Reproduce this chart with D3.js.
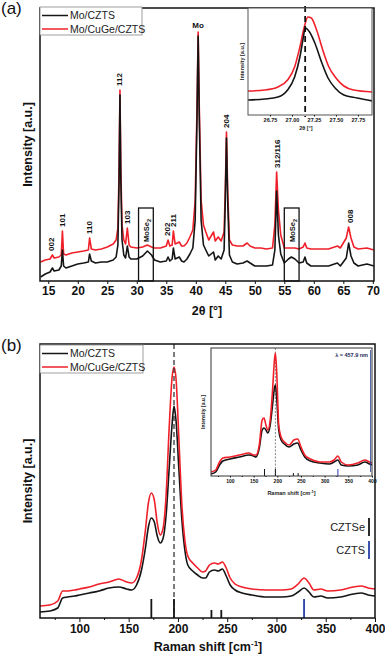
<!DOCTYPE html>
<html lang="en">
<head>
<meta charset="UTF-8">
<title>XRD and Raman: Mo/CZTS vs Mo/CuGe/CZTS</title>
<script src="https://d3js.org/d3.v7.min.js"></script>
<style>
    body {
        margin: 0;
        background: #fff;
    }
    svg text {
        font-family: 'Liberation Sans', Arial, sans-serif;
    }
    .frame {
        fill: none;
        stroke: #111;
        stroke-width: 1.5px;
    }
    .line {
        fill: none;
        stroke-width: 1.6px;
        stroke-linejoin: round;
    }
</style>
</head>
<body>
<svg id="fig" width="385" height="655"></svg>
<script>
    // ---- data ----
    const seriesNames = ["Mo/CZTS", "Mo/CuGe/CZTS"];

    // (a) XRD, 2theta in degrees, intensity in arbitrary units
    const xrdTicks = [15, 20, 25, 30, 35, 40, 45, 50, 55, 60, 65, 70];
    const xrdTheta = [
        13.7, 14.5, 15.3, 15.7, 16.0, 16.8, 17.2, 17.4, 17.6, 18.0,
        19.0, 20.0, 21.0, 21.8, 22.0, 22.3, 23.0, 24.0, 25.0, 26.0,
        26.5, 26.8, 27.0, 27.15, 27.3, 27.5, 27.8, 28.1, 28.4, 28.7,
        29.0, 30.0, 31.0, 31.8, 32.5, 33.0, 34.0, 35.0, 35.3, 35.6,
        36.0, 36.2, 36.5, 37.2, 37.6, 38.0, 38.5, 39.0, 39.5, 39.9,
        40.2, 40.4, 40.6, 40.9, 41.3, 41.7, 42.2, 43.0, 43.3, 43.8,
        44.3, 44.8, 45.0, 45.2, 45.4, 45.7, 46.2, 47.0, 48.0, 48.7,
        49.2, 50.0, 51.0, 52.0, 53.0, 53.4, 53.7, 54.0, 54.4, 55.0,
        55.7, 56.2, 56.8, 57.5, 58.2, 58.5, 58.8, 59.5, 61.0, 62.5,
        64.0, 64.5, 65.5, 65.9, 66.3, 66.8, 67.5, 69.0, 70.2
    ];
    const xrdCZTS = [
        4, 7, 9, 13, 10, 11, 15, 31, 15, 13,
        15, 17, 18, 19, 27, 20, 18, 19, 19, 21,
        24, 36, 101, 186, 101, 41, 26, 23, 35, 24,
        22, 22, 25, 30, 26, 21, 19, 20, 24, 20,
        22, 33, 22, 24, 20, 19, 22, 27, 33, 61,
        161, 245, 161, 61, 36, 31, 25, 29, 21, 25,
        22, 31, 81, 143, 81, 26, 19, 17, 18, 20,
        18, 15, 15, 15, 16, 31, 90, 46, 27, 18,
        22, 24, 22, 18, 19, 24, 18, 15, 15, 15,
        18, 15, 23, 38, 25, 18, 15, 17, 15
    ];
    const xrdCuGeCZTS = [
        19, 21, 22, 26, 23, 24, 26, 50, 27, 26,
        28, 29, 30, 31, 43, 32, 31, 32, 34, 37,
        41, 53, 111, 191, 111, 56, 41, 37, 53, 36,
        34, 33, 34, 36, 34, 33, 33, 35, 41, 35,
        36, 50, 37, 39, 35, 35, 38, 44, 51, 81,
        171, 249, 171, 81, 56, 49, 41, 49, 40, 44,
        40, 49, 91, 149, 91, 41, 36, 35, 35, 38,
        35, 33, 33, 32, 33, 56, 109, 71, 46, 33,
        33, 33, 33, 32, 34, 38, 33, 32, 32, 32,
        35, 33, 43, 54, 43, 34, 32, 33, 31
    ];
    const xrdPeakLabels = ["002", "101", "110", "112", "103", "202", "211", "204", "312/116", "008"];
    const xrdPeakTheta = [15.5, 17.3, 21.9, 27.05, 28.4, 35.2, 36.2, 45.2, 53.8, 66.1];
    const moTheta = 40.4;
    const moSe2Ranges = [[30.3, 32.8], [55.0, 57.5]];

    // (a) inset: zoom on the 112 reflection
    const insetTicksA = [26.75, 27.00, 27.25, 27.50, 27.75];
    const insetThetaCZTS = [26.5, 26.69, 26.84, 26.95, 27.03, 27.09, 27.13, 27.15, 27.2, 27.26, 27.34, 27.41, 27.49, 27.59, 27.74, 27.92];
    const insetCZTS = [15, 16, 18, 25, 38, 58, 78, 87, 83, 72, 52, 37, 27, 20, 17, 14];
    const insetThetaCuGe = [26.5, 26.69, 26.84, 26.95, 27.03, 27.09, 27.14, 27.18, 27.22, 27.28, 27.35, 27.42, 27.5, 27.59, 27.7, 27.92];
    const insetCuGe = [24, 25, 28, 35, 48, 68, 88, 98, 97, 85, 65, 48, 37, 29, 25, 23];
    const insetMarkA = 27.15;

    // (b) Raman, shift in cm-1
    const ramanTicks = [100, 150, 200, 250, 300, 350, 400];
    const ramanMinor = [75, 125, 175, 225, 275, 325, 375];
    const ramanShift = [
        60, 70, 78, 83, 88, 95, 100, 110, 120, 130,
        140, 148, 153, 158, 163, 167, 170, 173, 176, 179,
        182, 185, 188, 191, 194, 196, 198, 201, 204, 207,
        210, 215, 220, 225, 228, 232, 237, 241, 245, 249,
        253, 258, 265, 275, 290, 305, 315, 322, 328, 333,
        338, 345, 352, 365, 378, 386, 393, 400
    ];
    const ramanCZTS = [
        6, 7, 10, 20, 21, 22, 23, 25, 27, 30,
        31, 29, 28, 33, 48, 70, 91, 100, 96, 82,
        75, 80, 103, 148, 193, 212, 198, 148, 98, 68,
        53, 47, 43, 40, 40, 46, 48, 47, 49, 42,
        33, 28, 25, 23, 21, 21, 22, 26, 30, 26,
        21, 22, 20, 21, 24, 25, 23, 22
    ];
    const ramanCuGeCZTS = [
        12, 13, 17, 27, 27, 28, 29, 31, 34, 36,
        39, 36, 35, 40, 58, 88, 115, 125, 118, 95,
        83, 90, 123, 188, 240, 251, 240, 178, 113, 78,
        62, 55, 50, 46, 47, 53, 55, 54, 56, 50,
        40, 34, 31, 29, 28, 28, 29, 34, 40, 35,
        28, 29, 27, 28, 31, 32, 30, 29
    ];
    const ramanMark = 196;

    // (b) inset: 457.9 nm excitation
    const insetShift = [
        60, 70, 78, 85, 100, 120, 140, 150, 155, 162,
        168, 172, 176, 180, 185, 190, 194, 196, 199, 203,
        208, 215, 225, 235, 243, 250, 258, 270, 290, 310,
        320, 328, 335, 350, 370, 385, 395, 400
    ];
    const insetRamanCZTS = [
        2, 4, 11, 15, 17, 19, 21, 20, 19, 28,
        46, 48, 46, 43, 51, 71, 88, 91, 76, 46,
        36, 32, 29, 32, 33, 26, 19, 15, 13, 12,
        14, 16, 11, 10, 11, 14, 12, 11
    ];
    const insetRamanCuGe = [
        4, 6, 14, 18, 19, 21, 23, 21, 21, 31,
        56, 58, 51, 46, 56, 86, 116, 123, 101, 51,
        39, 34, 31, 36, 37, 29, 21, 17, 14, 14,
        16, 20, 14, 11, 13, 16, 14, 13
    ];

    // reference modes (relative stick heights)
    const cztseModes = [173, 196, 234, 244];
    const cztseRel = [1, 1, 0.42, 0.42];
    const cztsModes = [328];
    const cztsRel = [1];

    // ---- drawing ----
    const black = "#151515";
    const red = "#f0202a";
    const blue = "#2640a6";
    const colors = [black, red];

    const svg = d3.select("#fig");
    const defs = svg.append("defs");

    function clip(id, x0, y0, x1, y1) {
        defs.append("clipPath").attr("id", id)
            .append("rect").attr("x", x0).attr("y", y0).attr("width", x1 - x0).attr("height", y1 - y0);
    }

    function bottomAxis(scale, y, ticks, size, fontSize, fmt) {
        const ax = d3.axisBottom(scale).tickValues(ticks).tickSize(size).tickSizeOuter(0).tickPadding(2);
        if (fmt) ax.tickFormat(fmt);
        const g = svg.append("g").attr("transform", `translate(0,${y})`).call(ax);
        g.select(".domain").remove();
        g.attr("font-family", null).attr("font-size", fontSize).attr("font-weight", "bold");
        g.selectAll("text").attr("fill", "#111");
        g.selectAll("line").attr("stroke", "#111");
        return g;
    }

    function legend(x0, y0, w, h, gap) {
        svg.append("rect").attr("x", x0).attr("y", y0).attr("width", w).attr("height", h)
            .attr("fill", "#fff").attr("stroke", "#888").attr("stroke-width", 0.8);
        seriesNames.forEach((name, i) => {
            const yy = y0 + 8.5 + i * gap;
            svg.append("line").attr("x1", x0 + 2).attr("x2", x0 + 28).attr("y1", yy).attr("y2", yy)
                .attr("stroke", colors[i]).attr("stroke-width", 1.5);
            svg.append("text").attr("x", x0 + 30).attr("y", yy).attr("dy", "0.35em")
                .attr("font-size", 10.5).attr("fill", "#222").text(name);
        });
    }

    // ===== panel (a) =====
    const A = {left: 40, right: 374, top: 8, bottom: 281};
    const xA = d3.scaleLinear().domain([13.6, 70.2]).range([A.left, A.right]);
    const yA = d3.scaleLinear().domain([0, 273]).range([A.bottom, A.top]);
    clip("clipA", A.left, A.top, A.right, A.bottom);

    const lineA = d3.line().x(d => xA(d[0])).y(d => yA(d[1]));
    const gA = svg.append("g").attr("clip-path", "url(#clipA)");
    [xrdCuGeCZTS, xrdCZTS].forEach((vals, k) => {
        gA.append("path").attr("class", "line")
            .attr("stroke", k === 0 ? red : black)
            .attr("stroke-width", 1.7)
            .attr("d", lineA(xrdTheta.map((t, i) => [t, vals[i]])));
    });

    // MoSe2 boxes
    moSe2Ranges.forEach(r => {
        const x0 = xA(r[0]), x1 = xA(r[1]);
        svg.append("rect").attr("x", x0).attr("y", yA(73)).attr("width", x1 - x0).attr("height", A.bottom - yA(73))
            .attr("fill", "none").attr("stroke", "#111").attr("stroke-width", 1.3);
        const t = svg.append("text")
            .attr("transform", `translate(${(x0 + x1) / 2 + 3},${yA(73) + 34}) rotate(-90)`)
            .attr("font-size", 7.5).attr("font-weight", "bold").attr("fill", "#111");
        t.append("tspan").text("MoSe");
        t.append("tspan").attr("font-size", 5.5).attr("dy", 2).text("2");
    });

    // peak labels, placed just above the upper curve
    function nearestRed(theta) {
        let best = 0;
        xrdTheta.forEach((t, i) => { if (Math.abs(t - theta) < 0.25 && xrdCuGeCZTS[i] > xrdCuGeCZTS[best]) best = i; });
        if (Math.abs(xrdTheta[best] - theta) >= 0.25) best = d3.minIndex(xrdTheta, t => Math.abs(t - theta));
        return xrdCuGeCZTS[best];
    }
    xrdPeakLabels.forEach((lab, i) => {
        const x = xA(xrdPeakTheta[i]);
        const y = yA(nearestRed(xrdPeakTheta[i])) - 4;
        svg.append("text")
            .attr("transform", `translate(${x + 3},${y}) rotate(-90)`)
            .attr("font-size", 8).attr("font-weight", "bold").attr("fill", "#111")
            .text(lab);
    });
    svg.append("text").attr("x", xA(moTheta)).attr("y", yA(249) - 4)
        .attr("text-anchor", "middle").attr("font-size", 8).attr("font-weight", "bold").attr("fill", "#111")
        .text("Mo");

    svg.append("rect").attr("class", "frame")
        .attr("x", A.left).attr("y", A.top).attr("width", A.right - A.left).attr("height", A.bottom - A.top);
    bottomAxis(xA, A.bottom, xrdTicks, 3, 12);

    svg.append("text").attr("x", 207).attr("y", 315).attr("text-anchor", "middle")
        .attr("font-size", 12.5).attr("font-weight", "bold").attr("fill", "#111").text("2θ [°]");
    svg.append("text").attr("transform", `translate(32,${(A.top + A.bottom) / 2}) rotate(-90)`)
        .attr("text-anchor", "middle").attr("font-size", 12.5).attr("font-weight", "bold").attr("fill", "#111")
        .text("Intensity [a.u.]");
    svg.append("text").attr("x", 1).attr("y", 14).attr("font-size", 17).attr("fill", "#111").text("(a)");
    legend(40, 7, 102, 28, 13.5);

    // inset (a)
    const IA = {left: 248, right: 372, top: 8, bottom: 115};
    const xIA = d3.scaleLinear().domain([26.5, 27.91]).range([IA.left, IA.right]);
    const yIA = d3.scaleLinear().domain([0, 107]).range([IA.bottom, IA.top]);
    clip("clipIA", IA.left, IA.top, IA.right, IA.bottom);
    svg.append("rect").attr("x", IA.left).attr("y", IA.top).attr("width", IA.right - IA.left).attr("height", IA.bottom - IA.top)
        .attr("fill", "#fff");
    const lineIA = d3.line().x(d => xIA(d[0])).y(d => yIA(d[1])).curve(d3.curveMonotoneX);
    const gIA = svg.append("g").attr("clip-path", "url(#clipIA)");
    gIA.append("path").attr("class", "line").attr("stroke", red).attr("stroke-width", 1.4)
        .attr("d", lineIA(insetThetaCuGe.map((t, i) => [t, insetCuGe[i]])));
    gIA.append("path").attr("class", "line").attr("stroke", black).attr("stroke-width", 1.4)
        .attr("d", lineIA(insetThetaCZTS.map((t, i) => [t, insetCZTS[i]])));
    svg.append("line").attr("x1", xIA(insetMarkA)).attr("x2", xIA(insetMarkA)).attr("y1", IA.top - 2).attr("y2", IA.bottom + 2)
        .attr("stroke", "#111").attr("stroke-width", 1.8).attr("stroke-dasharray", "6,4");
    svg.append("rect").attr("x", IA.left).attr("y", IA.top).attr("width", IA.right - IA.left).attr("height", IA.bottom - IA.top)
        .attr("fill", "none").attr("stroke", "#555").attr("stroke-width", 1);
    bottomAxis(xIA, IA.bottom, insetTicksA, 1.5, 5.5, d3.format(".2f"));
    svg.append("text").attr("x", 306).attr("y", 130).attr("text-anchor", "middle")
        .attr("font-size", 5.5).attr("font-weight", "bold").attr("fill", "#222").text("2θ [°]");
    svg.append("text").attr("transform", `translate(244,${(IA.top + IA.bottom) / 2}) rotate(-90)`)
        .attr("text-anchor", "middle").attr("font-size", 5.5).attr("font-weight", "bold").attr("fill", "#222")
        .text("Intensity [a.u.]");

    // ===== panel (b) =====
    const B = {left: 40, right: 375, top: 344, bottom: 618};
    const xB = d3.scaleLinear().domain([60, 400]).range([B.left, B.right]);
    const yB = d3.scaleLinear().domain([0, 274]).range([B.bottom, B.top]);
    clip("clipB", B.left, B.top, B.right, B.bottom);

    const lineB = d3.line().x(d => xB(d[0])).y(d => yB(d[1])).curve(d3.curveMonotoneX);
    const gB = svg.append("g").attr("clip-path", "url(#clipB)");
    gB.append("path").attr("class", "line").attr("stroke", black)
        .attr("d", lineB(ramanShift.map((s, i) => [s, ramanCZTS[i]])));
    gB.append("path").attr("class", "line").attr("stroke", red)
        .attr("d", lineB(ramanShift.map((s, i) => [s, ramanCuGeCZTS[i]])));

    gB.append("line").attr("x1", xB(ramanMark)).attr("x2", xB(ramanMark)).attr("y1", B.top).attr("y2", B.bottom)
        .attr("stroke", "#111").attr("stroke-width", 1.1).attr("stroke-dasharray", "5,3");

    // reference sticks
    function sticks(xs, rel, color, x, yBase, len, w, g) {
        xs.forEach((s, i) => {
            g.append("line").attr("x1", x(s)).attr("x2", x(s)).attr("y1", yBase).attr("y2", yBase - rel[i] * len)
                .attr("stroke", color).attr("stroke-width", w);
        });
    }
    sticks(cztseModes, cztseRel, black, xB, B.bottom, 19, 1.8, gB);
    sticks(cztsModes, cztsRel, blue, xB, B.bottom, 19, 1.8, gB);

    svg.append("rect").attr("class", "frame")
        .attr("x", B.left).attr("y", B.top).attr("width", B.right - B.left).attr("height", B.bottom - B.top);
    bottomAxis(xB, B.bottom, ramanTicks, 4, 12);
    bottomAxis(xB, B.bottom, ramanMinor, 2, 0, () => "");

    const rl = svg.append("text").attr("x", 208).attr("y", 651).attr("text-anchor", "middle")
        .attr("font-size", 12.5).attr("font-weight", "bold").attr("fill", "#111");
    rl.append("tspan").text("Raman shift [cm");
    rl.append("tspan").attr("font-size", 8).attr("dy", -5).text("-1");
    rl.append("tspan").attr("dy", 5).text("]");
    svg.append("text").attr("transform", `translate(32,${(B.top + B.bottom) / 2}) rotate(-90)`)
        .attr("text-anchor", "middle").attr("font-size", 12.5).attr("font-weight", "bold").attr("fill", "#111")
        .text("Intensity [a.u.]");
    svg.append("text").attr("x", 1).attr("y", 351).attr("font-size", 17).attr("fill", "#111").text("(b)");
    legend(40, 345, 103, 28, 13.5);

    // side key for reference modes
    [["CZTSe", black, 518], ["CZTS", blue, 541]].forEach(k => {
        svg.append("line").attr("x1", 369).attr("x2", 369).attr("y1", k[2]).attr("y2", k[2] + 18)
            .attr("stroke", k[1]).attr("stroke-width", 1.8);
        svg.append("text").attr("x", 365).attr("y", k[2] + 9).attr("dy", "0.35em").attr("text-anchor", "end")
            .attr("font-size", 11).attr("fill", "#222").text(k[0]);
    });

    // inset (b)
    const IB = {left: 211, right: 372, top: 348, bottom: 476};
    const xIB = d3.scaleLinear().domain([60, 400]).range([IB.left, IB.right]);
    const yIB = d3.scaleLinear().domain([0, 128]).range([IB.bottom, IB.top]);
    clip("clipIB", IB.left, IB.top, IB.right, IB.bottom);
    svg.append("rect").attr("x", IB.left).attr("y", IB.top).attr("width", IB.right - IB.left).attr("height", IB.bottom - IB.top)
        .attr("fill", "#fff");
    const lineIB = d3.line().x(d => xIB(d[0])).y(d => yIB(d[1])).curve(d3.curveMonotoneX);
    const gIB = svg.append("g").attr("clip-path", "url(#clipIB)");
    gIB.append("line").attr("x1", xIB(ramanMark)).attr("x2", xIB(ramanMark)).attr("y1", IB.top).attr("y2", IB.bottom)
        .attr("stroke", "#888").attr("stroke-width", 1).attr("stroke-dasharray", "2,1.5");
    gIB.append("path").attr("class", "line").attr("stroke", black).attr("stroke-width", 1.1)
        .attr("d", lineIB(insetShift.map((s, i) => [s, insetRamanCZTS[i]])));
    gIB.append("path").attr("class", "line").attr("stroke", red).attr("stroke-width", 1.1)
        .attr("d", lineIB(insetShift.map((s, i) => [s, insetRamanCuGe[i]])));
    sticks(cztseModes, cztseRel, black, xIB, IB.bottom, 7, 1, gIB);
    sticks(cztsModes, cztsRel, blue, xIB, IB.bottom, 7, 1, gIB);
    gIB.append("line").attr("x1", IB.right - 1.5).attr("x2", IB.right - 1.5).attr("y1", IB.top + 2).attr("y2", IB.bottom - 4)
        .attr("stroke", blue).attr("stroke-width", 0.8);
    svg.append("rect").attr("x", IB.left).attr("y", IB.top).attr("width", IB.right - IB.left).attr("height", IB.bottom - IB.top)
        .attr("fill", "none").attr("stroke", "#333").attr("stroke-width", 1);
    bottomAxis(xIB, IB.bottom, ramanTicks, 1.5, 5);
    bottomAxis(xIB, IB.bottom, ramanMinor, 1, 0, () => "");
    const il = svg.append("text").attr("x", (IB.left + IB.right) / 2).attr("y", 495).attr("text-anchor", "middle")
        .attr("font-size", 5.5).attr("font-weight", "bold").attr("fill", "#222");
    il.append("tspan").text("Raman shift [cm");
    il.append("tspan").attr("font-size", 4).attr("dy", -2).text("-1");
    il.append("tspan").attr("dy", 2).text("]");
    svg.append("text").attr("transform", `translate(205,${(IB.top + IB.bottom) / 2}) rotate(-90)`)
        .attr("text-anchor", "middle").attr("font-size", 5).attr("font-weight", "bold").attr("fill", "#222")
        .text("Intensity [a.u.]");
    svg.append("text").attr("x", 368).attr("y", 357).attr("text-anchor", "end")
        .attr("font-size", 5.5).attr("font-weight", "bold").attr("fill", "#1d2a5a").text("λ = 457.9 nm");
</script>
</body>
</html>
